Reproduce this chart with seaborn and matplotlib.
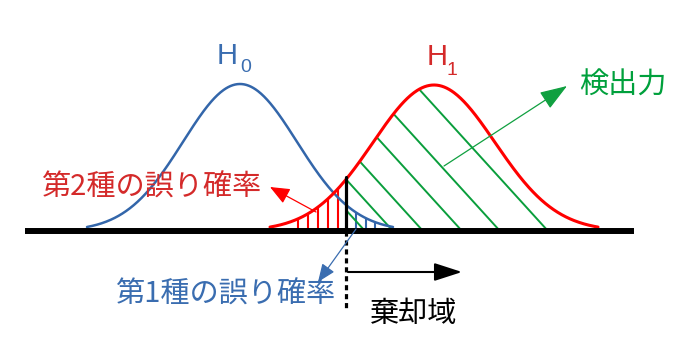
import numpy as np
import pandas as pd
import matplotlib
matplotlib.use("Agg")
import matplotlib.pyplot as plt
import seaborn as sns
from matplotlib.patches import ArrowStyle

# ---- data (diagram units: x along baseline in px, y = height above baseline) ----
dist_names = ["H0", "H1"]
dist_means = [240, 434]
dist_sds = [57, 61]
dist_peaks = [147, 146]
dist_lo = [87, 270]
dist_hi = [393, 598]
threshold = 346
type2_hatch_x = [298, 308, 318, 328, 338]
type1_hatch_x = [356, 366, 375]
power_hatch_x = [365, 393, 423, 462, 500, 548]
power_hatch_slope = 1.1
baseline_lo, baseline_hi = 25, 634

label_type2 = "第2種の誤り確率"
label_type1 = "第1種の誤り確率"
label_power = "検出力"
label_reject = "棄却域"

BLUE = "#3366AA"
RED = "#FF0000"
DRED = "#D42A2A"
GREEN = "#0A9E3C"
GTEXT = "#00A03C"
BTEXT = "#3A6DB0"

sns.set_style("white")
plt.rcParams["font.family"] = ["Noto Sans CJK JP", "DejaVu Sans"]

BASE = 231  # pixel row of baseline
def Y(py):
    return BASE - py


def gauss(x, i):
    return dist_peaks[i] * np.exp(-(x - dist_means[i]) ** 2 / (2 * dist_sds[i] ** 2))


frames = []
for i, name in enumerate(dist_names):
    xs = np.linspace(dist_lo[i], dist_hi[i], 400)
    frames.append(pd.DataFrame({"x": xs, "y": gauss(xs, i), "dist": name}))
df = pd.concat(frames, ignore_index=True)

fig = plt.figure(figsize=(6.84, 3.51), dpi=100)
ax = fig.add_axes([0, 0, 1, 1])

# hatching of H1 left of threshold (type II error) -- red verticals
for x in type2_hatch_x:
    ax.plot([x, x], [0, gauss(x, 1)], color=RED, lw=1.5, solid_capstyle="butt", zorder=2)
# hatching of H0 right of threshold (type I error) -- blue verticals
for x in type1_hatch_x:
    ax.plot([x, x], [0, gauss(x, 0)], color=BLUE, lw=1.5, solid_capstyle="butt", zorder=2)

# power region (clip path) and green diagonal hatching
xr = np.linspace(threshold, dist_hi[1], 300)
poly = ax.fill_between(xr, 0, gauss(xr, 1), color="none", lw=0)
for xb in power_hatch_x:
    xx = np.array([xb - 200 / power_hatch_slope, xb + 50])
    yy = -power_hatch_slope * (xx - xb)
    ln, = ax.plot(xx, yy, color=GREEN, lw=1.4, zorder=2)
    ln.set_clip_path(poly.get_paths()[0], ax.transData)

# curves
sns.lineplot(data=df, x="x", y="y", hue="dist", palette=[BLUE, RED],
             estimator=None, sort=False, legend=False, ax=ax, zorder=3)
for line, lw in zip(ax.get_lines()[-2:], [1.8, 2.2]):
    line.set_linewidth(lw)
ax.set_xlim(0, 684)
ax.set_ylim(BASE - 351, BASE)
ax.set_axis_off()

# baseline
ax.plot([baseline_lo, baseline_hi], [0, 0], color="black", lw=4.3, solid_capstyle="butt", zorder=4)
# threshold
ax.plot([threshold, threshold], [0, gauss(threshold, 1) + 2], color="black", lw=2.3, zorder=5)
ax.plot([threshold, threshold], [0, Y(310)], color="black", lw=2.3,
        linestyle=(0, (1.6, 1.2)), zorder=5)

# arrows
def arrow(p0, p1, color, lw, hl, hw, ms=10):
    ax.annotate("", xy=(p1[0], Y(p1[1])), xytext=(p0[0], Y(p0[1])),
                arrowprops=dict(arrowstyle=ArrowStyle("-|>", head_length=hl, head_width=hw),
                                color=color, lw=lw, shrinkA=0, shrinkB=0,
                                mutation_scale=ms), zorder=6)

arrow((316, 212), (270, 187), RED, 0.9, 1.2, 0.5)
arrow((356, 229), (318, 282), "#3A6DB0", 0.9, 1.1, 0.45)
arrow((444, 166), (567, 86), "#10A040", 0.9, 1.7, 0.6)
arrow((348, 272), (462, 272), "black", 1.5, 1.7, 0.55)

# labels
ax.text(217, Y(64), "H", fontsize=21, color=BTEXT, family="Liberation Sans", ha="left", va="baseline")
ax.text(240, Y(72), "0", fontsize=14, color=BTEXT, family="Liberation Sans", ha="left", va="baseline")
ax.text(427, Y(65), "H", fontsize=21, color=DRED, family="Liberation Sans", ha="left", va="baseline")
ax.text(447, Y(75), "1", fontsize=14, color=DRED, family="Liberation Sans", ha="left", va="baseline")

ax.text(151, Y(188), label_type2, fontsize=21, color=DRED, ha="center", va="center")
ax.text(225, Y(295), label_type1, fontsize=21, color=BTEXT, ha="center", va="center")
ax.text(414, Y(314), label_reject, fontsize=21, color="black", ha="center", va="center")
ax.text(623, Y(86), label_power, fontsize=21, color=GTEXT, ha="center", va="center")

fig.savefig("out.png", dpi=100)
